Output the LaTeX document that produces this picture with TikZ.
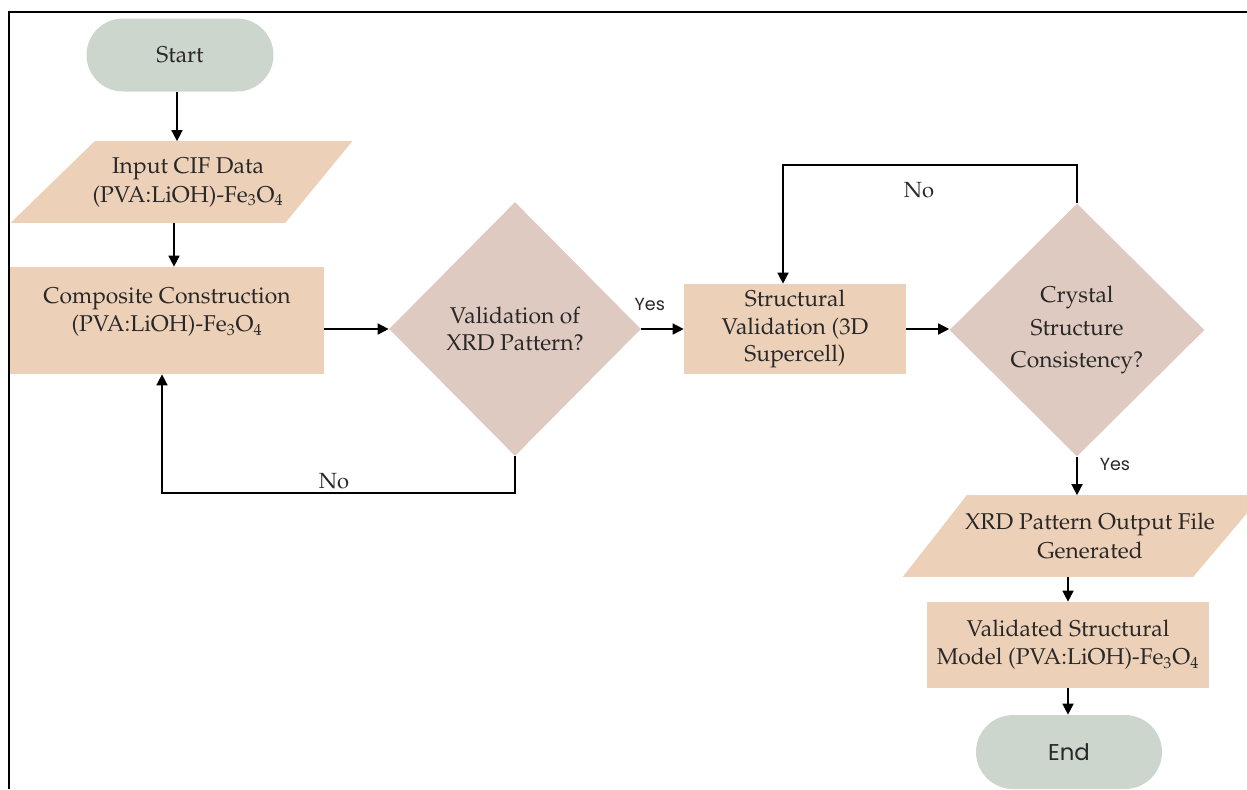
\documentclass[tikz,border=0pt]{standalone}
\usepackage[T1]{fontenc}
\usepackage{fontspec}
\newfontfamily\yesfont{Poppins}
\newcommand{\pala}{\fontencoding{T1}\fontfamily{ppl}\selectfont}
\usetikzlibrary{shapes.geometric,shapes.misc,arrows.meta,backgrounds}

\definecolor{termfill}{RGB}{204,214,205}
\definecolor{boxfill}{RGB}{237,208,184}
\definecolor{decfill}{RGB}{222,202,193}
\definecolor{inkgrey}{RGB}{40,40,40}

\tikzset{
  term/.style={rounded rectangle, fill=termfill, inner sep=0pt, text=inkgrey},
  procbox/.style={rectangle, fill=boxfill, align=center, inner sep=0pt, text=inkgrey,
    font=\pala\fontsize{13}{16}\selectfont},
  iobox/.style={rectangle, align=center, inner sep=0pt, text=inkgrey,
    minimum width=4.8cm, minimum height=1.62cm,
    font=\pala\fontsize{13}{16.5}\selectfont},
  decision/.style={diamond, fill=decfill, align=center, inner sep=0pt, text=inkgrey,
    font=\pala\fontsize{13}{15}\selectfont},
  flow/.style={-{Triangle[length=6.3pt,width=6.3pt]}, line width=0.85pt},
  answer/.style={font=\yesfont\fontsize{10}{12}\selectfont, text=inkgrey, inner sep=0pt},
  nolabel/.style={font=\pala\fontsize{12.5}{14}\selectfont, text=inkgrey, inner sep=0pt}
}

\begin{document}
\begin{tikzpicture}[x=0.02cm,y=-0.02cm]
\useasboundingbox (0,0) rectangle (1247,789);

% frame
\draw[line width=1.3pt] (9,789) -- (9,12) -- (1247,12);

% start
\node[term, minimum width=3.74cm, minimum height=1.46cm,
  font=\pala\fontsize{13}{15}\selectfont] (start) at (180,55) {Start};

% input data
\node[iobox] (input) at (188,182)
  {Input CIF Data\\(PVA:LiOH)-Fe\textsubscript{3}O\textsubscript{4}};
\begin{scope}[on background layer]
\fill[boxfill] ([xshift=0.54cm]input.north west) -- ([xshift=0.88cm]input.north east)
  -- ([xshift=-0.46cm]input.south east) -- ([xshift=-1.14cm]input.south west) -- cycle;
\end{scope}
\draw[flow] ([xshift=-0.06cm]start.south) -- ([xshift=-0.06cm]start.south |- input.north);

% composite
\node[procbox, minimum width=6.28cm, minimum height=2.14cm] (comp) at (167,320.5)
  {Composite Construction\\(PVA:LiOH)-Fe\textsubscript{3}O\textsubscript{4}\\[-4pt]\mbox{}};
\draw[flow] ([xshift=-0.28cm]input.south) -- ([xshift=-0.28cm]input.south |- comp.north);

% validation of xrd
\node[decision, minimum width=5.04cm, minimum height=5.08cm] (valxrd) at (515,329)
  {Validation of\\XRD Pattern?};
\draw[flow] (comp.east |- valxrd.west) -- (valxrd.west);

% no loop back to composite
\coordinate (botloop) at (340,493);
\draw[flow] (valxrd.south) |- (botloop) -| ([xshift=-0.1cm]comp.south);
\node[nolabel] (no1) at (334,481) {No};

% structural validation
\node[procbox, minimum width=4.44cm, minimum height=1.8cm,
  font=\pala\fontsize{13}{15.4}\selectfont] (struct) at (795,329)
  {Structural\\Validation (3D\\Supercell)};
\draw[flow] (valxrd.east) -- node[answer, pos=0.2, above=0.36cm] (yes1) {Yes} (struct.west);

% crystal structure
\node[decision, minimum width=5.1cm, minimum height=5.06cm,
  font=\pala\fontsize{13}{18.5}\selectfont] (crystal) at (1077,330)
  {Crystal\\Structure\\Consistency?};
\draw[flow] (struct.east) -- (struct.east -| crystal.west);

% no loop back to structural
\coordinate (toploop) at (930,165);
\draw[flow] (crystal.north) |- (toploop) -| ([xshift=-0.24cm]struct.north);
\node[nolabel] (no2) at (919,190) {No};

% xrd output
\node[iobox] (xrdout) at (1090,536) {XRD Pattern Output File\\Generated};
\begin{scope}[on background layer]
\fill[boxfill] ([xshift=0.04cm]xrdout.north west) -- ([xshift=0.94cm]xrdout.north east)
  -- ([xshift=-0.44cm]xrdout.south east) -- ([xshift=-1.24cm]xrdout.south west) -- cycle;
\end{scope}
\draw[flow] (crystal.south) -- node[answer, pos=0.2, right=0.44cm] (yes2) {Yes}
  (crystal.south |- xrdout.north);

% validated model
\node[procbox, minimum width=5.64cm, minimum height=1.72cm] (model) at (1068,645)
  {Validated Structural\\Model (PVA:LiOH)-Fe\textsubscript{3}O\textsubscript{4}};
\draw[flow] (model.north |- xrdout.south) -- (model.north);

% end
\node[term, minimum width=3.72cm, minimum height=1.48cm,
  font=\yesfont\fontsize{13}{15}\selectfont] (finish) at (1069,752) {End};
\draw[flow] (model.south) -- (model.south |- finish.north);

\end{tikzpicture}
\end{document}
